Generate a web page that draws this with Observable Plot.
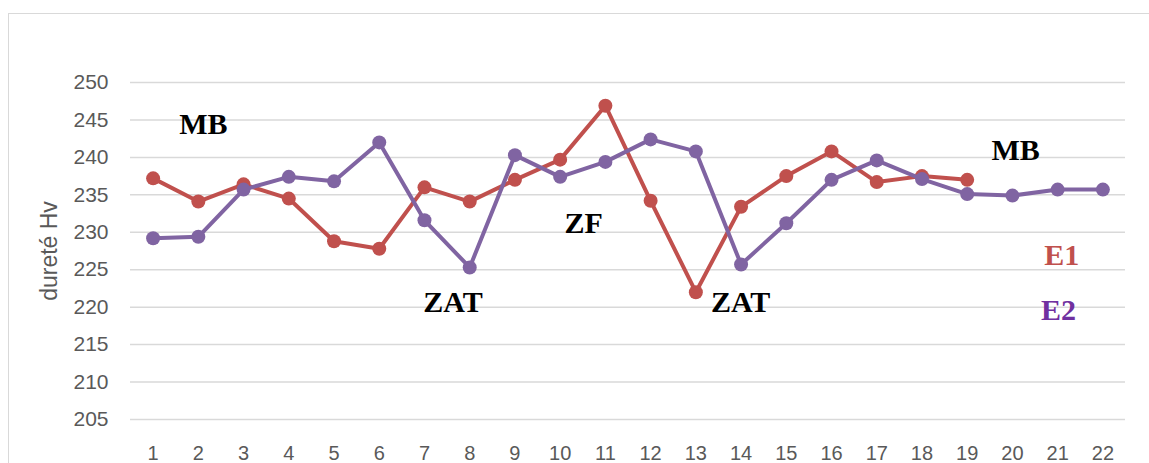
<!DOCTYPE html>
<html>
<head>
<meta charset="utf-8">
<script src="https://cdn.jsdelivr.net/npm/d3@7"></script>
<script src="https://cdn.jsdelivr.net/npm/@observablehq/plot@0.6"></script>
<style>
  html, body { margin: 0; padding: 0; background: #fff; }
  #wrap { position: relative; width: 1149px; height: 463px; overflow: hidden; }
  #frame { position: absolute; left: 8px; top: 13px; width: 1200px; height: 500px;
           border-top: 1.5px solid #d9d9d9; border-left: 1.5px solid #d9d9d9; box-sizing: border-box; }
  #chart { position: absolute; left: 0; top: 0; }
</style>
</head>
<body>
<div id="wrap"><div id="frame"></div><div id="chart"></div></div>
<script>
const categories = [1,2,3,4,5,6,7,8,9,10,11,12,13,14,15,16,17,18,19,20,21,22];
const e1Values = [237.2, 234.1, 236.4, 234.5, 228.8, 227.8, 236.0, 234.1, 237.0, 239.7, 246.9, 234.2, 222.0, 233.4, 237.5, 240.8, 236.7, 237.5, 237.0];
const e2Values = [229.2, 229.4, 235.7, 237.4, 236.8, 242.0, 231.6, 225.3, 240.3, 237.4, 239.4, 242.4, 240.8, 225.7, 231.2, 237.0, 239.6, 237.1, 235.1, 234.9, 235.7, 235.7];
const yTicks = [205, 210, 215, 220, 225, 230, 235, 240, 245, 250];
const yLabel = "dureté Hv";
const annLabels = ["MB", "ZAT", "ZF", "ZAT", "MB", "E1", "E2"];
const annX = [2.11, 7.63, 10.52, 13.99, 20.07, 21.09, 21.02];
const annY = [244.4, 220.6, 231.2, 220.6, 240.9, 226.9, 219.6];
const annColors = ["#000000", "#000000", "#000000", "#000000", "#000000", "#C0504D", "#7030A0"];

const e1 = e1Values.map((v, i) => ({x: categories[i], y: v}));
const e2 = e2Values.map((v, i) => ({x: categories[i], y: v}));
const ann = annLabels.map((t, i) => ({t, x: annX[i], y: annY[i], c: annColors[i]}));

const red = "#C0504D", purple = "#8064A2";

const chart = Plot.plot({
  width: 1149,
  height: 463,
  marginLeft: 130,
  marginRight: 24,
  marginTop: 82,
  marginBottom: 44,
  style: {fontFamily: "Liberation Sans", fontSize: "21px", color: "#595959", background: "transparent"},
  x: {domain: [0.5, 22.5]},
  y: {domain: [205, 250]},
  marks: [
    Plot.gridY(yTicks, {stroke: "#d9d9d9", strokeOpacity: 1, strokeWidth: 1.5}),
    Plot.axisY(yTicks, {tickSize: 0, tickPadding: 22, label: null, fontSize: 21}),
    Plot.text([yLabel], {frameAnchor: "left", textAnchor: "middle", rotate: -90, dx: -81, fontSize: 23, fill: "#595959", fontFamily: "Liberation Sans"}),
    Plot.axisX(categories, {tickSize: 0, tickPadding: 26, label: null, tickFormat: d => String(d), fontSize: 20}),
    Plot.line(e1, {x: "x", y: "y", stroke: red, strokeWidth: 4}),
    Plot.dot(e1, {x: "x", y: "y", fill: red, r: 7}),
    Plot.line(e2, {x: "x", y: "y", stroke: purple, strokeWidth: 4}),
    Plot.dot(e2, {x: "x", y: "y", fill: purple, r: 7}),
    Plot.text(ann, {x: "x", y: "y", text: "t", fill: "c", fontFamily: "Liberation Serif", fontWeight: "bold", fontSize: 30})
  ]
});
document.getElementById("chart").appendChild(chart);
</script>
</body>
</html>
